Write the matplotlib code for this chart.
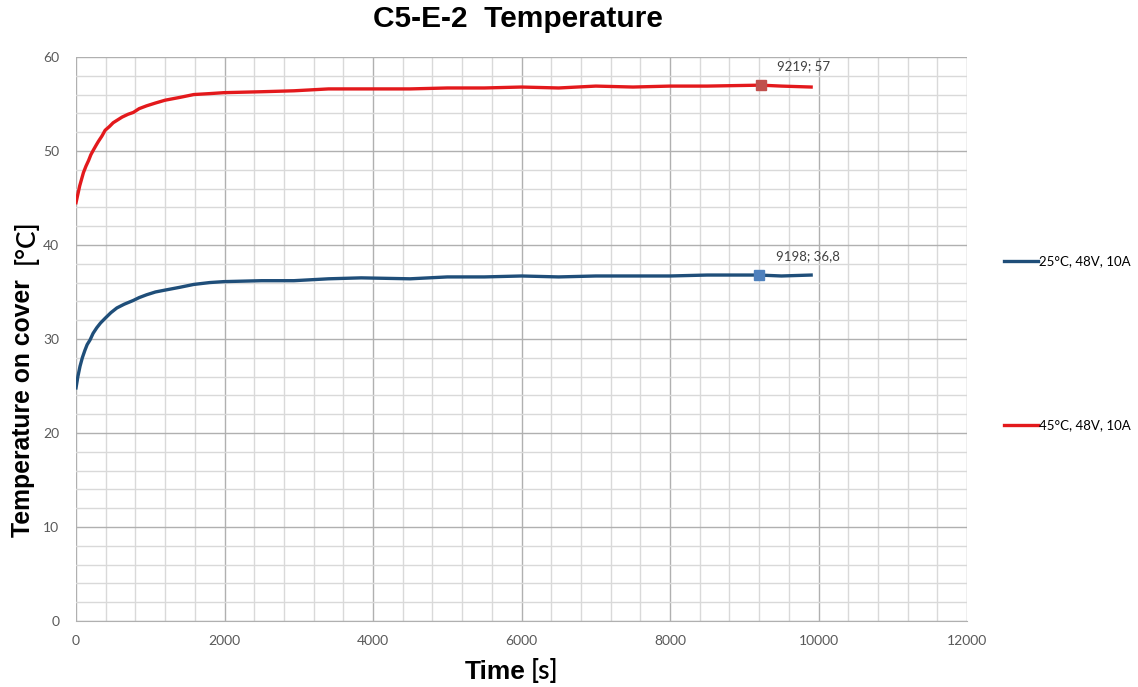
import matplotlib.pyplot as plt
from matplotlib.ticker import MultipleLocator

# values
time_25 = [0, 25, 54, 85, 120, 150, 189, 230, 280, 330, 392, 470, 550, 650, 772, 850, 950,
           1070, 1200, 1400, 1585, 1800, 1990, 2500, 2935, 3400, 3840, 4500, 5000, 5500,
           6000, 6500, 7000, 7500, 8000, 8500, 9198, 9500, 9900]
temp_25 = [24.8, 26.0, 27.1, 28.0, 28.8, 29.4, 29.9, 30.6, 31.2, 31.7, 32.2, 32.8, 33.3, 33.7,
           34.1, 34.4, 34.7, 35.0, 35.2, 35.5, 35.8, 36.0, 36.1, 36.2, 36.2, 36.4, 36.5, 36.4,
           36.6, 36.6, 36.7, 36.6, 36.7, 36.7, 36.7, 36.8, 36.8, 36.7, 36.8]

time_45 = [0, 25, 50, 75, 100, 135, 170, 200, 234, 270, 300, 350, 392, 450, 500, 560, 620,
           700, 772, 850, 950, 1070, 1200, 1400, 1585, 1800, 1990, 2500, 2935, 3400, 3840,
           4500, 5000, 5500, 6000, 6500, 7000, 7500, 8000, 8500, 9219, 9500, 9900]
temp_45 = [44.5, 45.4, 46.3, 47.0, 47.7, 48.4, 49.0, 49.6, 50.1, 50.6, 51.0, 51.6, 52.2, 52.6,
           53.0, 53.3, 53.6, 53.9, 54.1, 54.5, 54.8, 55.1, 55.4, 55.7, 56.0, 56.1, 56.2, 56.3,
           56.4, 56.6, 56.6, 56.6, 56.7, 56.7, 56.8, 56.7, 56.9, 56.8, 56.9, 56.9, 57.0, 56.9,
           56.8]

labels = ['25°C, 48V, 10A', '45°C, 48V, 10A']
points = [(9198, 36.8, '9198; 36,8'), (9219, 57, '9219; 57')]

small_font = 'Lato'

fig = plt.figure(figsize=(11.38, 6.87), dpi=100)
ax = fig.add_axes([0.0668, 0.0961, 0.783, 0.821])

l1, = ax.plot(time_25, temp_25, color='#1f4e79', lw=2.4, label=labels[0], zorder=3)
l2, = ax.plot(time_45, temp_45, color='#e3191c', lw=2.4, label=labels[1], zorder=3)

ax.plot(points[0][0], points[0][1], 's', color='#4f81bd', ms=7, zorder=4)
ax.plot(points[1][0], points[1][1], 's', color='#c0504d', ms=7, zorder=4)
for x, y, txt in points:
    ax.annotate(txt, (x, y), xytext=(12, 11), textcoords='offset points',
                fontsize=9.5, color='#404040', family=small_font)

ax.set_xlim(0, 12000)
ax.set_ylim(0, 60)
ax.xaxis.set_major_locator(MultipleLocator(2000))
ax.xaxis.set_minor_locator(MultipleLocator(400))
ax.yaxis.set_major_locator(MultipleLocator(10))
ax.yaxis.set_minor_locator(MultipleLocator(2))
ax.grid(which='major', color='#b0b0b0', lw=1.0, zorder=0)
ax.grid(which='minor', color='#d9d9d9', lw=1.0, zorder=0)
ax.tick_params(which='both', length=0, labelsize=10, labelcolor='#595959')
ax.tick_params(axis='x', pad=10)
ax.tick_params(axis='y', pad=12)
for lab in ax.get_xticklabels() + ax.get_yticklabels():
    lab.set_family(small_font)
for s in ['top', 'right', 'left']:
    ax.spines[s].set_visible(False)
ax.spines['bottom'].set_color('#b0b0b0')

# title and axis labels (bold part + normal unit part)
fig.text(0.455, 0.972, 'C5-E-2  Temperature', ha='center', va='center',
         fontsize=21.5, fontweight='bold', family='Liberation Sans')
fig.text(0.4615, 0.004, 'Time', ha='right', va='bottom',
         fontsize=19, fontweight='bold', family='Liberation Sans')
fig.text(0.466, 0.004, '[s]', ha='left', va='bottom',
         fontsize=19, fontweight='semibold', family='Lato')
fig.text(0.010, 0.218, 'Temperature on cover', ha='left', va='bottom', rotation=90,
         fontsize=17.8, fontweight='bold', family='Liberation Sans')
fig.text(0.012, 0.616, '[°C]', ha='left', va='bottom', rotation=90,
         fontsize=19, fontweight='semibold', family='Lato')

fig.legend(handles=[l1, l2], loc='center left', bbox_to_anchor=(0.882, 0.5),
           frameon=False, prop={'family': small_font, 'size': 9.5},
           handlelength=2.6, handletextpad=0.1,
           labelspacing=11.5, borderpad=0, borderaxespad=0)

fig.savefig('out.png', dpi=100)
